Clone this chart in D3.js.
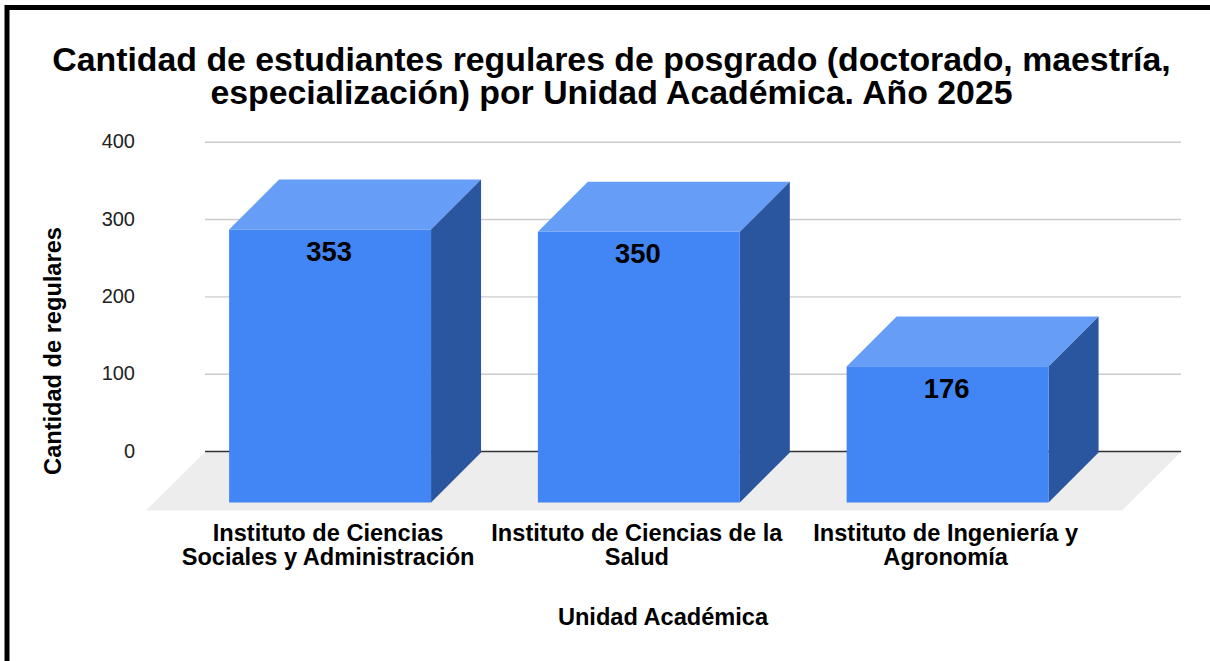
<!DOCTYPE html>
<html><head><meta charset="utf-8">
<script src="https://cdn.jsdelivr.net/npm/d3@7"></script>
<style>html,body{margin:0;padding:0;background:#fff}svg{display:block}text{font-family:"Liberation Sans",Arial,sans-serif}</style>
</head><body><svg id="c" width="1210" height="661"></svg>
<script>
const categories = [["Instituto de Ciencias","Sociales y Administración"],["Instituto de Ciencias de la","Salud"],["Instituto de Ingeniería y","Agronomía"]];
const values = [353,350,176];
const yTicks = [0,100,200,300,400];
const titleLines = ["Cantidad de estudiantes regulares de posgrado (doctorado, maestría,","especialización) por Unidad Académica. Año 2025"];
const xTitle = "Unidad Académica", yTitle = "Cantidad de regulares";

const svg = d3.select("#c");
const depth = 50;
const yBack = d3.scaleLinear().domain([0,400]).range([451.5,142.2]);
const yFront = v => yBack(v) + depth + 1;
const x = d3.scaleBand().domain(d3.range(values.length)).range([175.7,1102]).paddingInner(.346).paddingOuter(.173);

// frame
svg.append("path").attr("d","M7 661V7.5H1210").attr("fill","none").attr("stroke","#000").attr("stroke-width",5);

// floor
const wallL = 205, wallR = 1181;
svg.append("path").attr("d",`M${wallL} 452H${wallR}L1122 510.5H146Z`).attr("fill","#ededed");

// gridlines
svg.append("g").selectAll("line").data(yTicks).join("line")
  .attr("x1",wallL).attr("x2",wallR).attr("y1",d=>yBack(d)).attr("y2",d=>yBack(d))
  .attr("stroke",d=>d===0?"#333":"#ccc").attr("stroke-width",d=>d===0?1.5:1.4);

// y ticks
svg.append("g").selectAll("text").data(yTicks).join("text")
  .attr("x",135).attr("y",d=>yBack(d)+6).attr("text-anchor","end")
  .attr("font-size",20).attr("fill","#222").text(d=>d);

// bars
const bars = svg.append("g").selectAll("g").data(values).join("g");
const base = yFront(0);
bars.append("path").attr("fill","#669df6").attr("d",(d,i)=>{const a=x(i),w=x.bandwidth(),t=yFront(d);
  return `M${a} ${t}L${a+depth} ${t-depth}H${a+w+depth}L${a+w} ${t}Z`;});
bars.append("path").attr("fill","#2a56a0").attr("d",(d,i)=>{const b=x(i)+x.bandwidth(),t=yFront(d);
  return `M${b} ${t}L${b+depth} ${t-depth}V${base-depth}L${b} ${base}Z`;});
bars.append("rect").attr("fill","#4285f4").attr("x",(d,i)=>x(i)).attr("width",x.bandwidth())
  .attr("y",d=>yFront(d)).attr("height",d=>base-yFront(d));
bars.append("text").attr("x",(d,i)=>x(i)+x.bandwidth()/2-1).attr("y",d=>yFront(d)+31.5)
  .attr("text-anchor","middle").attr("font-size",27.4).attr("font-weight","bold").attr("fill","#000").text(d=>d);

// category labels
svg.append("g").selectAll("text").data(categories).join("text")
  .attr("text-anchor","middle").attr("font-size",23.6).attr("font-weight","bold").attr("fill","#000")
  .each(function(d,i){d3.select(this).selectAll("tspan").data(d).join("tspan")
    .attr("x",x(i)+x.bandwidth()/2-2).attr("y",(l,j)=>541+j*24).text(l=>l);});

// title
svg.append("g").selectAll("text").data(titleLines).join("text")
  .attr("x",611.5).attr("y",(d,i)=>71+i*33).attr("text-anchor","middle")
  .attr("font-size",33.85).attr("font-weight","bold").attr("fill","#000").text(d=>d);

// axis titles
svg.append("text").attr("x",663).attr("y",625).attr("text-anchor","middle")
  .attr("font-size",23.6).attr("font-weight","bold").text(xTitle);
svg.append("text").attr("transform","translate(61,351) rotate(-90)").attr("text-anchor","middle")
  .attr("font-size",23.6).attr("font-weight","bold").text(yTitle);
</script></body></html>
